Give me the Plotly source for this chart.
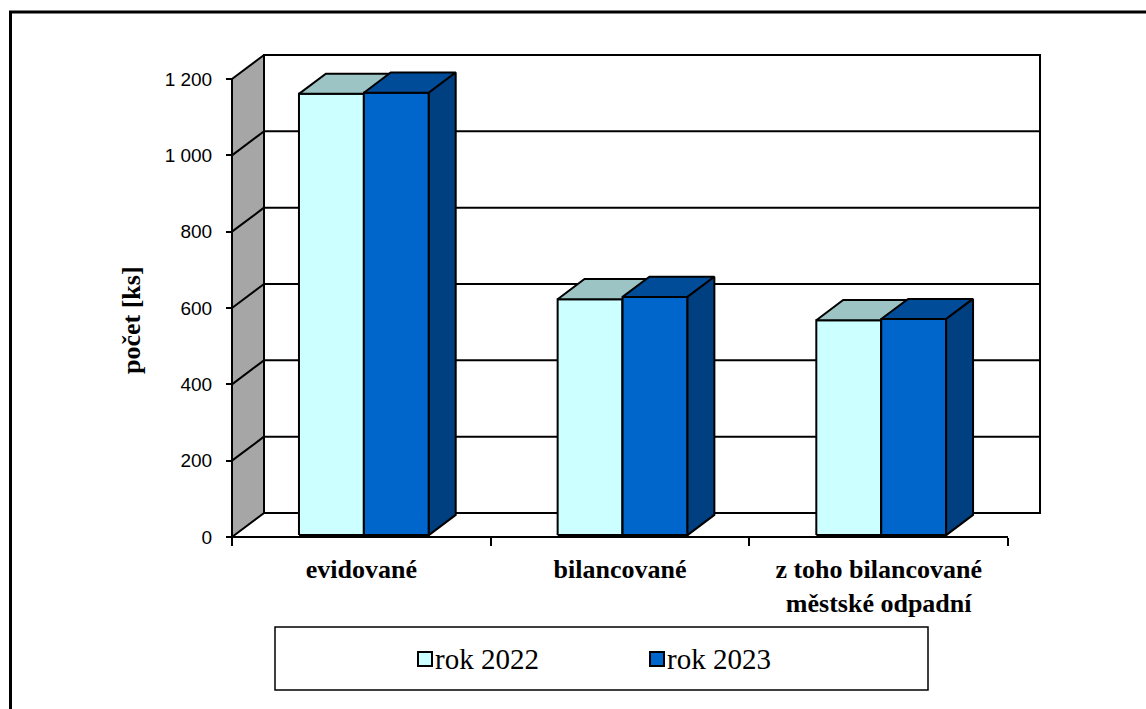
import plotly.graph_objects as go

# ---- data -------------------------------------------------------------
categories = ["evidované", "bilancované", "z toho bilancované<br>městské odpadní<br>vody"]
series_names = ["rok 2022", "rok 2023"]
values_2022 = [1156, 618, 563]
values_2023 = [1159, 624, 566]
y_tick_values = [0, 200, 400, 600, 800, 1000, 1200]
y_tick_labels = ["0", "200", "400", "600", "800", "1 000", "1 200"]
y_title = "počet [ks]"

# ---- styling ----------------------------------------------------------
front_colors = ["#CCFFFF", "#0066CC"]
top_colors = ["#9CC4C4", "#004C99"]
side_colors = ["#7AA3A3", "#003F80"]
wall_gray = "#A6A6A6"
line_black = "#000000"
sans = "Liberation Sans"
serif = "Liberation Serif"

W, H = 1146, 709
# placement of the front plane of the 3-D box (pixels)
ORIGIN_X, ORIGIN_Y = 232, 537
SLOT_PX = 258.67            # width of one category slot
VAL_PX = 458 / 1200         # pixels per unit of value
DEPTH_PX = (32, 24)         # oblique offset of the back wall

y_max = y_tick_values[-1]
n_cat = len(categories)

# axis ranges so that the data units land on the front plane
x_lo = -ORIGIN_X / SLOT_PX
x_hi = x_lo + W / SLOT_PX
y_hi = ORIGIN_Y / VAL_PX
y_lo = (ORIGIN_Y - H) / VAL_PX

DX = DEPTH_PX[0] / SLOT_PX
DY = DEPTH_PX[1] / VAL_PX


def px(xp):
    return xp / W


def py(yp):
    return 1 - yp / H


def polys(list_of_pts):
    xs, ys = [], []
    for pts in list_of_pts:
        for (a, b) in pts + [pts[0]]:
            xs.append(a)
            ys.append(b)
        xs.append(None)
        ys.append(None)
    return xs, ys


def segs(list_of_segs):
    xs, ys = [], []
    for (a, b) in list_of_segs:
        xs += [a[0], b[0], None]
        ys += [a[1], b[1], None]
    return xs, ys


fig = go.Figure()


def add_fill(pts_list, color, width=2.0):
    xs, ys = polys(pts_list)
    fig.add_trace(go.Scatter(
        x=xs, y=ys, mode="lines", fill="toself", fillcolor=color,
        line=dict(color=line_black, width=width),
        hoverinfo="skip", showlegend=False))


def add_lines(seg_list, width=2.0):
    xs, ys = segs(seg_list)
    fig.add_trace(go.Scatter(
        x=xs, y=ys, mode="lines", line=dict(color=line_black, width=width),
        hoverinfo="skip", showlegend=False))


# floor (white, no outline)
xs, ys = polys([[(0, 0), (n_cat, 0), (n_cat + DX, DY), (DX, DY)]])
fig.add_trace(go.Scatter(x=xs, y=ys, mode="lines", fill="toself", fillcolor="white",
                         line=dict(width=0, color="white"), hoverinfo="skip",
                         showlegend=False))

# back wall
add_fill([[(DX, DY), (n_cat + DX, DY), (n_cat + DX, y_max + DY), (DX, y_max + DY)]], "white")
# side wall
add_fill([[(0, 0), (0, y_max), (DX, y_max + DY), (DX, DY)]], wall_gray)

# gridlines on the back wall and the side wall
grid = []
for v in y_tick_values[1:-1]:
    grid.append(((DX, v + DY), (n_cat + DX, v + DY)))
    grid.append(((0, v), (DX, v + DY)))
add_lines(grid)

# front edge of the floor (category axis line)
add_lines([((0, 0), (n_cat, 0))])

# ---- 3-D columns ------------------------------------------------------
bar_w = 0.251
d0, d1 = 0.08, 0.92
series_values = [values_2022, values_2023]

for s, vals in enumerate(series_values):
    fronts, tops, sides = [], [], []
    for k, v in enumerate(vals):
        xl = k + 0.5 - bar_w + s * bar_w
        xr = xl + bar_w
        fx, fy = d0 * DX, d0 * DY
        bx, by = d1 * DX, d1 * DY
        fronts.append([(xl + fx, fy), (xr + fx, fy), (xr + fx, v + fy), (xl + fx, v + fy)])
        tops.append([(xl + fx, v + fy), (xr + fx, v + fy), (xr + bx, v + by), (xl + bx, v + by)])
        sides.append([(xr + fx, fy), (xr + fx, v + fy), (xr + bx, v + by), (xr + bx, by)])
    add_fill(fronts, front_colors[s])
    add_fill(tops, top_colors[s])
    add_fill(sides, side_colors[s])

# x axis second layer only carries the category labels
fig.add_trace(go.Scatter(x=[None], y=[None], xaxis="x2", yaxis="y", showlegend=False,
                         hoverinfo="skip"))

# ---- legend (boxed) ---------------------------------------------------
shapes = [
    # outer frame
    dict(type="line", xref="paper", yref="paper", x0=px(10.5), x1=px(10.5), y0=py(12), y1=0,
         line=dict(color=line_black, width=3), layer="above"),
    dict(type="line", xref="paper", yref="paper", x0=px(9), x1=1, y0=py(12), y1=py(12),
         line=dict(color=line_black, width=3), layer="above"),
    # legend box
    dict(type="rect", xref="paper", yref="paper", x0=px(275), x1=px(928), y0=py(627), y1=py(690),
         fillcolor="white", line=dict(color=line_black, width=1.5), layer="above"),
]
legend_key_x = [418, 650]
annotations = []
for s, name in enumerate(series_names):
    x0 = legend_key_x[s]
    shapes.append(dict(type="rect", xref="paper", yref="paper", x0=px(x0), x1=px(x0 + 14),
                       y0=py(652), y1=py(666), fillcolor=front_colors[s],
                       line=dict(color=line_black, width=2), layer="above"))
    annotations.append(dict(xref="paper", yref="paper", x=px(x0 + 15), y=py(659), text=name,
                            showarrow=False, xanchor="left", yanchor="middle",
                            font=dict(family=serif, size=29, color=line_black)))

annotations.append(dict(xref="paper", yref="paper", x=px(131), y=py(320), text=y_title,
                        textangle=-90, showarrow=False, xanchor="center", yanchor="middle",
                        font=dict(family=serif, size=26, color=line_black, weight="bold")))

fig.update_layout(
    width=W, height=H,
    margin=dict(l=0, r=0, t=0, b=0),
    paper_bgcolor="white", plot_bgcolor="white",
    showlegend=False,
    shapes=shapes,
    annotations=annotations,
    xaxis=dict(range=[x_lo, x_hi], domain=[0, 1], anchor="free", position=py(ORIGIN_Y),
               tickmode="array", tickvals=list(range(n_cat + 1)), ticktext=[""] * (n_cat + 1),
               ticks="outside", ticklen=8, tickwidth=1.5, tickcolor=line_black,
               showgrid=False, zeroline=False, showline=False, fixedrange=True),
    xaxis2=dict(range=[x_lo, x_hi], overlaying="x", anchor="free", position=py(ORIGIN_Y),
                side="bottom", tickmode="array",
                tickvals=[k + 0.5 for k in range(n_cat)], ticktext=categories,
                ticks="", ticklabelstandoff=14,
                tickfont=dict(family=serif, size=26, color=line_black, weight="bold"),
                showgrid=False, zeroline=False, showline=False, fixedrange=True),
    yaxis=dict(range=[y_lo, y_hi], domain=[0, 1], anchor="free", position=px(ORIGIN_X),
               tickmode="array", tickvals=y_tick_values, ticktext=y_tick_labels,
               ticks="outside", ticklen=6, tickwidth=1.5, tickcolor=line_black,
               ticklabelstandoff=10,
               tickfont=dict(family=sans, size=19, color=line_black),
               showgrid=False, zeroline=False, showline=False, fixedrange=True),
)

fig.write_html("out.html")
